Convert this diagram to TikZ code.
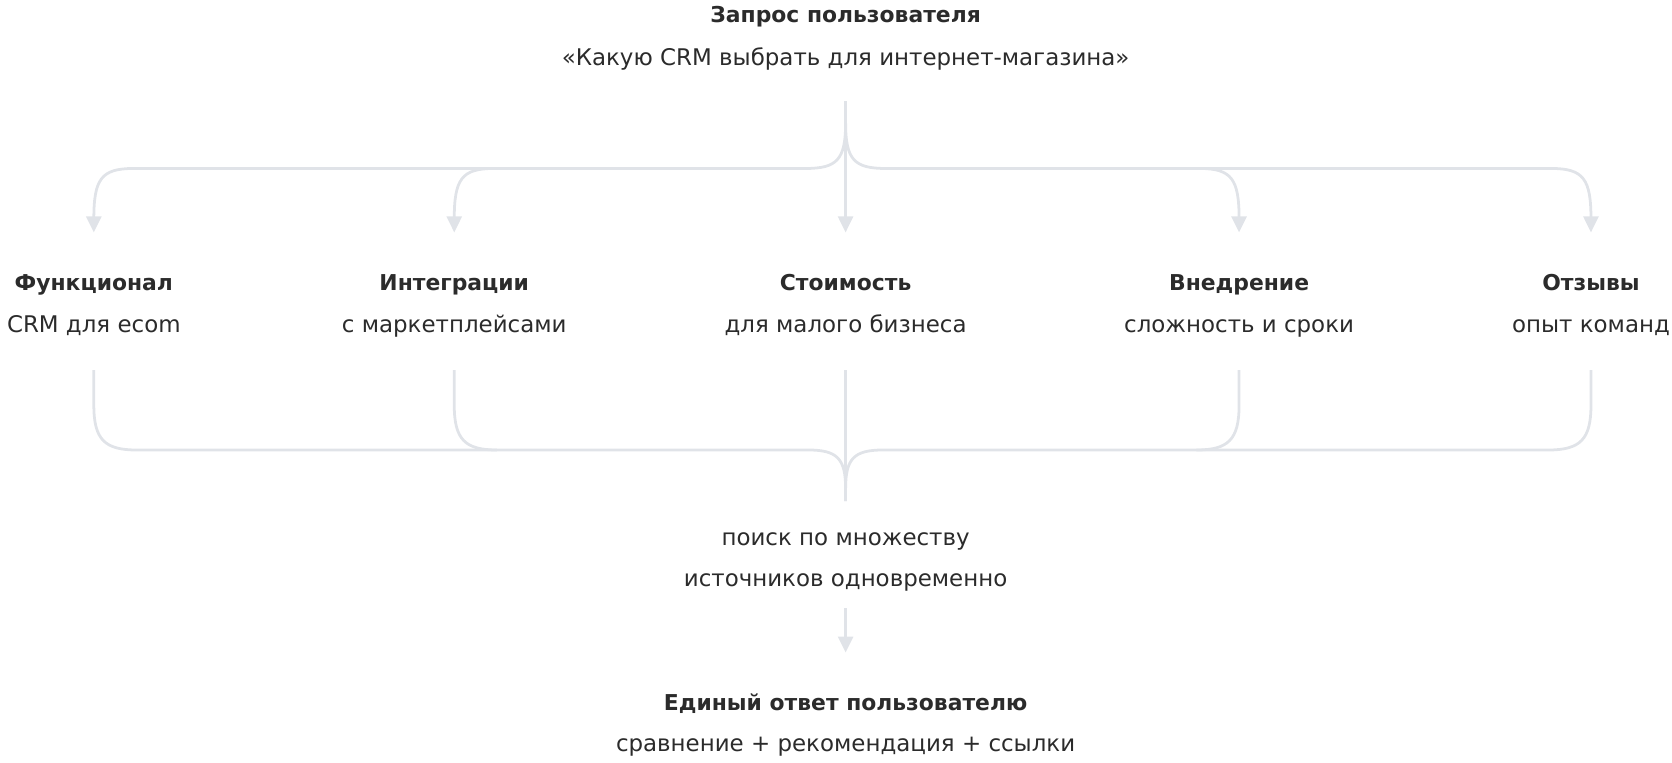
\documentclass[tikz,border=0pt]{standalone}
\usepackage{fontspec}
\setmainfont{DejaVu Sans}
\usetikzlibrary{arrows.meta}
\definecolor{ln}{HTML}{E0E3E8}
\definecolor{tx}{HTML}{2B2B2B}
\begin{document}
\begin{tikzpicture}[x=1pt,y=-1pt,
  t/.style={text=tx,font=\fontsize{21.5}{24}\selectfont,anchor=base,inner sep=0pt},
  b/.style={t,font=\fontsize{20.5}{24}\selectfont\bfseries},
  l/.style={draw=ln,line width=2.6pt},
  a/.style={l,-{Triangle[length=15pt,width=14pt]}}]
\useasboundingbox (0,0) rectangle (1568,715);
\node[b] (q) at (793,21) {Запрос пользователя};
\node[t] (qs) at (793,61) {«Какую CRM выбрать для интернет-магазина»};
\foreach \n/\x/\h/\s in {f/88/Функционал/CRM для ecom, i/426/Интеграции/с маркетплейсами, c/793/Стоимость/для малого бизнеса, v/1162/Внедрение/сложность и сроки, o/1492/Отзывы/опыт команд}{
  \node[b] (\n) at (\x,272) {\h};
  \node[t] (\n s) at (\x,312) {\s};
  \coordinate (\n in) at (\x,218);
  \coordinate (\n out) at (\x,347);
}
\node[t] (m1) at (793,512) {поиск по множеству};
\node[t] (m2) at (793,550) {источников одновременно};
\node[b] (r) at (793,666) {Единый ответ пользователю};
\node[t] (rs) at (793,705) {сравнение + рекомендация + ссылки};
\coordinate (top) at (793,95);
\coordinate (bot) at (793,470);
\coordinate (a1) at (793,570);
\coordinate (a2) at (793,612);
% top fan
\draw[a] (top) -- (793,115) .. controls (793,150) and (785,158) .. (755,158) -- (125,158) .. controls (95,158) and (88,168) .. (88,205) -- (fin);
\draw[a] (top) -- (793,115) .. controls (793,150) and (801,158) .. (831,158) -- (1455,158) .. controls (1485,158) and (1492,168) .. (1492,205) -- (oin);
\draw[a] (463,158) .. controls (433,158) and (426,168) .. (426,205) -- (iin);
\draw[a] (1125,158) .. controls (1155,158) and (1162,168) .. (1162,205) -- (vin);
\draw[a] (top) -- (cin);
% bottom fan
\draw[l] (fout) -- (88,380) .. controls (88,412) and (98,422) .. (128,422) -- (758,422) .. controls (785,422) and (793,430) .. (793,458) -- (bot);
\draw[l] (oout) -- (1492,380) .. controls (1492,412) and (1482,422) .. (1452,422) -- (828,422) .. controls (801,422) and (793,430) .. (793,458) -- (bot);
\draw[l] (iout) -- (426,380) .. controls (426,412) and (436,422) .. (466,422);
\draw[l] (vout) -- (1162,380) .. controls (1162,412) and (1152,422) .. (1122,422);
\draw[l] (cout) -- (bot);
\draw[a] (a1) -- (a2);
\end{tikzpicture}
\end{document}
